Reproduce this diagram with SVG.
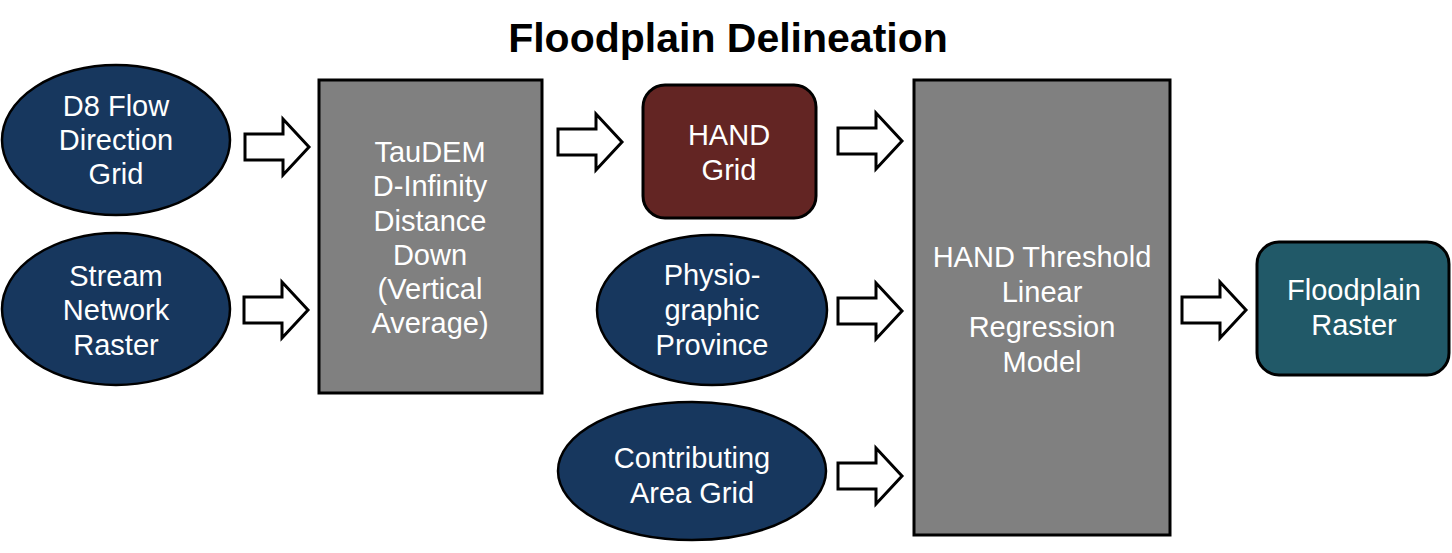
<svg xmlns="http://www.w3.org/2000/svg" xmlns:xlink="http://www.w3.org/1999/xlink" width="1452" height="553" viewBox="0 0 1452 553">
<style>
.t{font-family:"Liberation Sans",Arial,sans-serif;font-size:29px;fill:#ffffff;text-anchor:middle}
.title{font-family:"Liberation Sans",Arial,sans-serif;font-size:41px;font-weight:bold;fill:#000;text-anchor:middle}
.ell{fill:#17375e;stroke:#000;stroke-width:2.5}
.box{fill:#808080;stroke:#000;stroke-width:3}
.arr{fill:#fff;stroke:#000;stroke-width:3;stroke-linejoin:miter}
</style>
<defs>
<polygon id="arr" class="arr" points="0,-13 38,-13 38,-28 64,0 38,28 38,13 0,13"/>
</defs>
<rect width="1452" height="553" fill="#fff"/>
<text class="title" x="728" y="52">Floodplain Delineation</text>

<g id="connectors">
<use xlink:href="#arr" x="245" y="147"/>
<use xlink:href="#arr" x="244" y="310"/>
<use xlink:href="#arr" x="558" y="142"/>
<use xlink:href="#arr" x="838" y="141"/>
<use xlink:href="#arr" x="838" y="311"/>
<use xlink:href="#arr" x="838" y="476"/>
<use xlink:href="#arr" x="1182" y="310"/>
</g>

<g id="d8">
<ellipse class="ell" cx="116" cy="140" rx="114" ry="75"/>
<text class="t" x="116" y="116">D8 Flow</text>
<text class="t" x="116" y="150">Direction</text>
<text class="t" x="116" y="184">Grid</text>
</g>
<g id="stream">
<ellipse class="ell" cx="116" cy="309" rx="114" ry="76"/>
<text class="t" x="116" y="286">Stream</text>
<text class="t" x="116" y="320">Network</text>
<text class="t" x="116" y="355">Raster</text>
</g>
<g id="taudem">
<rect class="box" x="319" y="80" width="223" height="313"/>
<text class="t" x="430" y="162">TauDEM</text>
<text class="t" x="430" y="196">D-Infinity</text>
<text class="t" x="430" y="231">Distance</text>
<text class="t" x="430" y="265">Down</text>
<text class="t" x="430" y="299"> (Vertical</text>
<text class="t" x="430" y="333">Average)</text>
</g>
<g id="hand">
<rect x="643" y="85" width="173" height="133" rx="22" fill="#632523" stroke="#000" stroke-width="3"/>
<text class="t" x="729" y="145">HAND</text>
<text class="t" x="729" y="180">Grid</text>
</g>
<g id="physio">
<ellipse class="ell" cx="712" cy="310" rx="115" ry="75"/>
<text class="t" x="712" y="285">Physio-</text>
<text class="t" x="712" y="320">graphic</text>
<text class="t" x="712" y="355">Province</text>
</g>
<g id="contrib">
<ellipse class="ell" cx="692" cy="471" rx="134" ry="69"/>
<text class="t" x="692" y="468">Contributing</text>
<text class="t" x="692" y="503">Area Grid</text>
</g>
<g id="model">
<rect class="box" x="914" y="80" width="256" height="455"/>
<text class="t" x="1042" y="267">HAND Threshold</text>
<text class="t" x="1042" y="302">Linear</text>
<text class="t" x="1042" y="337">Regression</text>
<text class="t" x="1042" y="372">Model</text>
</g>
<g id="floodplain">
<rect x="1257" y="242" width="192" height="133" rx="22" fill="#215968" stroke="#000" stroke-width="3"/>
<text class="t" x="1354" y="300">Floodplain</text>
<text class="t" x="1354" y="335">Raster</text>
</g>
</svg>
